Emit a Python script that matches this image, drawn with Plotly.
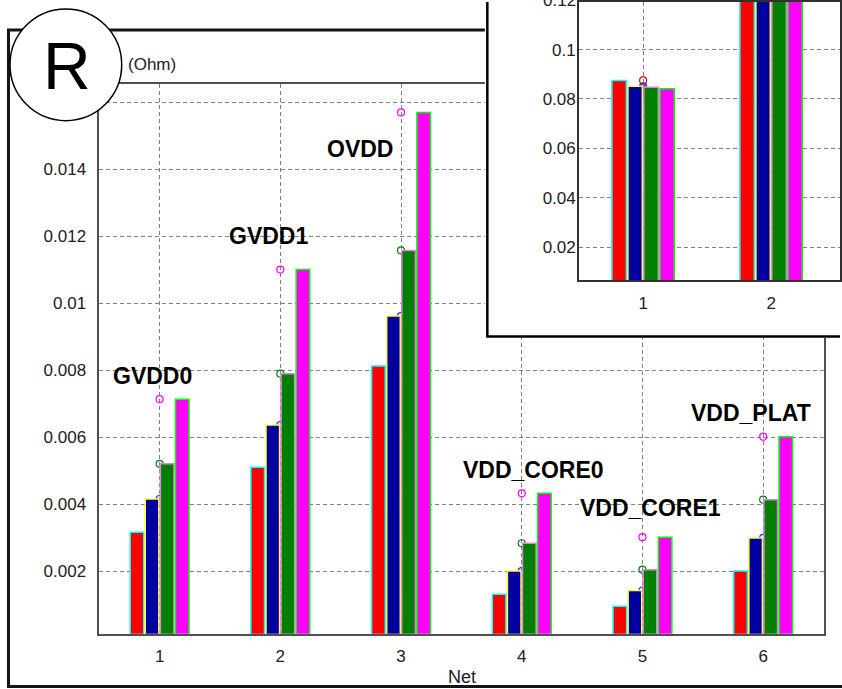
import plotly.graph_objects as go

# ---------------- data ----------------
nets = [1, 2, 3, 4, 5, 6]
net_ticktext = ["1", "2", "3", "4", "5", "6"]
net_names = ["GVDD0", "GVDD1", "OVDD", "VDD_CORE0", "VDD_CORE1", "VDD_PLAT"]

r_red = [0.00316, 0.00510, 0.00812, 0.00131, 0.00095, 0.00200]
r_blue = [0.00415, 0.00636, 0.00961, 0.00200, 0.00142, 0.00299]
r_green = [0.00520, 0.00789, 0.01157, 0.00283, 0.00204, 0.00413]
r_magenta = [0.00713, 0.01100, 0.01569, 0.00432, 0.00301, 0.00601]

# the 0.016 gridline's label sits under the "R" badge in the original, so it is blank
y_tickvals = [0.002, 0.004, 0.006, 0.008, 0.010, 0.012, 0.014, 0.016]
y_ticktext = ["0.002", "0.004", "0.006", "0.008", "0.01", "0.012", "0.014", ""]

inset_nets = [1, 2]
inset_ticktext = ["1", "2"]
inset_red = [0.0875, 0.142]
inset_blue = [0.0851, 0.145]
inset_green = [0.0847, 0.148]
inset_magenta = [0.0841, 0.151]

inset_tickvals = [0.02, 0.04, 0.06, 0.08, 0.10, 0.12]
inset_ticktext_y = ["0.02", "0.04", "0.06", "0.08", "0.1", "0.12"]

# label anchor positions (data units of main axes)
label_x = [0.938, 1.905, 2.661, 4.095, 5.066, 5.901]
label_y = [0.00782, 0.01199, 0.01461, 0.00503, 0.00387, 0.00672]

# ---------------- styles ----------------
W, H = 842, 689
FONT = "Liberation Sans, Arial, sans-serif"
fill_colors = ["#ff0000", "#0000a0", "#008000", "#ff00ff"]
edge_colors = ["#00ffff", "#ffff40", "#e080e0", "#00ff00"]
marker_colors = ["#ff0000", "#2020ff", "#008000", "#ff00ff"]

main_series = [r_red, r_blue, r_green, r_magenta]
inset_series = [inset_red, inset_blue, inset_green, inset_magenta]


def px_x(p):
    return p / W


def px_y(p):
    return 1 - p / H


fig = go.Figure()

# main markers (behind bars)
for vals, mc in zip(main_series, marker_colors):
    fig.add_trace(go.Scatter(x=nets, y=vals, mode="markers", xaxis="x", yaxis="y",
                             marker=dict(symbol="circle-open", size=7, color=mc,
                                         line=dict(width=1.2, color=mc)),
                             hoverinfo="skip"))
# main bars (overlay subplot, drawn above markers)
for vals, fc, ec in zip(main_series, fill_colors, edge_colors):
    fig.add_trace(go.Bar(x=nets, y=vals, xaxis="x2", yaxis="y2",
                         marker=dict(color=fc, line=dict(color=ec, width=1.5)),
                         hoverinfo="skip"))
# cover subplot (white inset frame lives here)
fig.add_trace(go.Scatter(x=[], y=[], xaxis="x3", yaxis="y3", mode="markers", hoverinfo="skip"))
# inset markers
for vals, mc in zip(inset_series, marker_colors):
    fig.add_trace(go.Scatter(x=inset_nets, y=vals, mode="markers", xaxis="x4", yaxis="y4",
                             marker=dict(symbol="circle-open", size=7, color=mc,
                                         line=dict(width=1.2, color=mc)),
                             hoverinfo="skip"))
# inset bars
for vals, fc, ec in zip(inset_series, fill_colors, edge_colors):
    fig.add_trace(go.Bar(x=inset_nets, y=vals, xaxis="x5", yaxis="y5",
                         marker=dict(color=fc, line=dict(color=ec, width=1.5)),
                         hoverinfo="skip"))

tickfont = dict(family=FONT, size=17, color="#202020")
grid = dict(showgrid=True, gridcolor="#808080", gridwidth=1, griddash="4px,3px",
            zeroline=False, ticks="", showline=True, mirror=True,
            tickfont=tickfont, fixedrange=True)

main_xdom = [px_x(99.5), px_x(825.5)]
main_ydom = [px_y(633.5), px_y(82)]
main_xrange = [0.5, 6.5]
main_yrange = [0.000131, 0.016545]

inset_xdom = [px_x(580.5), 1]
inset_ydom = [px_y(279), 1]
inset_xrange = [0.5, 0.5 + (W - 580.5) / 128.3]
inset_yrange = [0.00655, 0.11927]

fig.update_layout(
    width=W, height=H, autosize=False,
    margin=dict(l=0, r=0, t=0, b=0, pad=0),
    paper_bgcolor="white", plot_bgcolor="white",
    showlegend=False, barmode="group", bargap=0.5, bargroupgap=0.1,
    xaxis=dict(domain=main_xdom, range=main_xrange, anchor="y",
               tickvals=nets, ticktext=net_ticktext, linecolor="#505050", linewidth=1.5,
               ticklabelstandoff=6, **grid),
    yaxis=dict(domain=main_ydom, range=main_yrange, anchor="x",
               tickvals=y_tickvals, ticktext=y_ticktext, linecolor="#505050", linewidth=1.5,
               ticklabelstandoff=8, **grid),
    xaxis2=dict(overlaying="x", range=main_xrange, anchor="y2", visible=False, fixedrange=True),
    yaxis2=dict(overlaying="y", range=main_yrange, anchor="x2", visible=False, fixedrange=True),
    xaxis3=dict(domain=[px_x(486), 1], range=[0, 1], anchor="y3", visible=False, fixedrange=True),
    yaxis3=dict(domain=[px_y(337), 1], range=[0, 1], anchor="x3", visible=False, fixedrange=True),
    xaxis4=dict(domain=inset_xdom, range=inset_xrange, anchor="y4",
                tickvals=inset_nets, ticktext=inset_ticktext, linecolor="#303030", linewidth=2,
                ticklabelstandoff=6, **grid),
    yaxis4=dict(domain=inset_ydom, range=inset_yrange, anchor="x4",
                tickvals=inset_tickvals, ticktext=inset_ticktext_y, linecolor="#303030", linewidth=2,
                ticklabelstandoff=-2, **grid),
    xaxis5=dict(overlaying="x4", range=inset_xrange, anchor="y5", visible=False, fixedrange=True),
    yaxis5=dict(overlaying="y4", range=inset_yrange, anchor="x5", visible=False, fixedrange=True),
)

shapes = [
    # outer frame
    dict(type="rect", xref="paper", yref="paper", layer="below",
         x0=px_x(8.5), x1=1.1, y0=px_y(686.5), y1=px_y(28),
         line=dict(color="#141414", width=3), fillcolor="rgba(0,0,0,0)"),
    # inset white frame (in cover subplot, above main chart)
    dict(type="rect", xref="x3", yref="y3", layer="below",
         x0=(488.5 - 486) / (W - 486), x1=1.2, y0=(337 - 335.5) / 337, y1=1.2,
         line=dict(color="#000000", width=2.5), fillcolor="white"),
    # R circle
    dict(type="circle", xref="paper", yref="paper", layer="above",
         x0=px_x(10), x1=px_x(122), y0=px_y(119), y1=px_y(7),
         line=dict(color="#000000", width=1.5), fillcolor="white"),
]
fig.update_layout(shapes=shapes)

ann = [
    dict(text="R", x=px_x(67), y=px_y(64), xref="paper", yref="paper", showarrow=False,
         xanchor="center", yanchor="middle", font=dict(family=FONT, size=66, color="black")),
    dict(text="(Ohm)", x=px_x(126), y=px_y(63), xref="paper", yref="paper", showarrow=False,
         xanchor="left", yanchor="middle", font=dict(family=FONT, size=17, color="#202020")),
    dict(text="Net", x=px_x(463), y=px_y(677), xref="paper", yref="paper", showarrow=False,
         xanchor="center", yanchor="middle", font=dict(family=FONT, size=18, color="#202020")),
]
# top inset tick label, which sits just past the canvas edge (partly cut off like the original)
top_val = inset_tickvals[-1]
frac = (top_val - inset_yrange[0]) / (inset_yrange[1] - inset_yrange[0])
top_paper_y = inset_ydom[0] + frac * (inset_ydom[1] - inset_ydom[0])
ann.append(dict(text=inset_ticktext_y[-1], x=px_x(579), y=top_paper_y, xref="paper", yref="paper",
                showarrow=False, xanchor="right", yanchor="middle", font=tickfont))
for name, lx, ly in zip(net_names, label_x, label_y):
    ann.append(dict(text="<b>%s</b>" % name, x=lx, y=ly, xref="x", yref="y", showarrow=False,
                    xanchor="center", yanchor="middle",
                    font=dict(family=FONT, size=23, color="black")))
fig.update_layout(annotations=ann)

fig.write_html("out.html", config={"displayModeBar": False})
